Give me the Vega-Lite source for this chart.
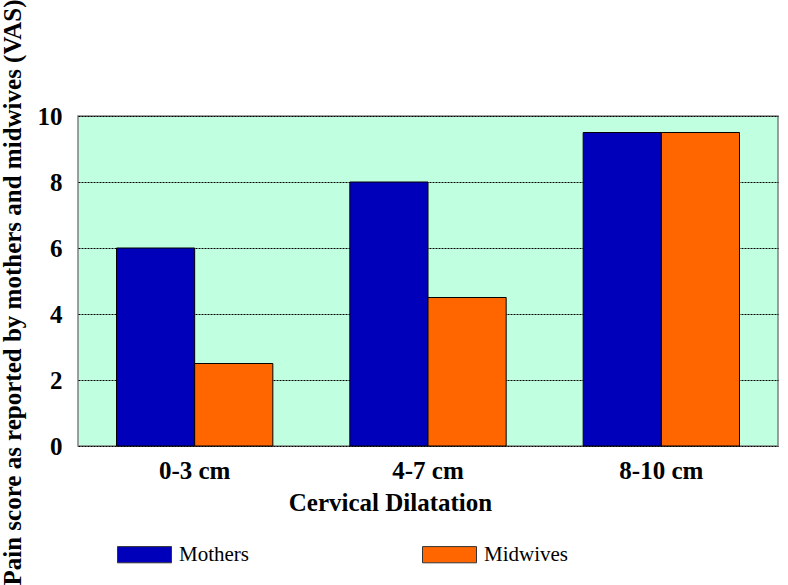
{
  "$schema": "https://vega.github.io/schema/vega-lite/v6.json",
  "width": 700,
  "height": 330,
  "autosize": "none",
  "padding": {"left": 78, "top": 116, "right": 10, "bottom": 139},
  "background": "white",
  "data": {
    "values": [
      {"dilatation": "0-3 cm", "group": "Mothers", "score": 6},
      {"dilatation": "0-3 cm", "group": "Midwives", "score": 2.5},
      {"dilatation": "4-7 cm", "group": "Mothers", "score": 8},
      {"dilatation": "4-7 cm", "group": "Midwives", "score": 4.5},
      {"dilatation": "8-10 cm", "group": "Mothers", "score": 9.5},
      {"dilatation": "8-10 cm", "group": "Midwives", "score": 9.5}
    ]
  },
  "mark": {"type": "bar", "stroke": "black", "strokeWidth": 1},
  "encoding": {
    "x": {
      "field": "dilatation",
      "type": "nominal",
      "sort": ["0-3 cm", "4-7 cm", "8-10 cm"],
      "scale": {"paddingInner": 0.33, "paddingOuter": 0.165},
      "axis": {
        "title": "Cervical Dilatation",
        "labelAngle": 0,
        "labelFont": "Liberation Serif, Times New Roman, serif",
        "labelFontWeight": "bold",
        "labelFontSize": 25,
        "labelColor": "black",
        "labelPadding": 12,
        "ticks": false,
        "domain": false,
        "titleFont": "Liberation Serif, Times New Roman, serif",
        "titleFontWeight": "bold",
        "titleFontSize": 25,
        "titleColor": "black",
        "titleX": 312,
        "titleY": 56,
        "titleBaseline": "middle"
      }
    },
    "xOffset": {"field": "group", "type": "nominal", "sort": ["Mothers", "Midwives"]},
    "y": {
      "field": "score",
      "type": "quantitative",
      "scale": {"domain": [0, 10]},
      "axis": {
        "title": "Pain score as reported by mothers and midwives (VAS)",
        "values": [0, 2, 4, 6, 8, 10],
        "grid": true,
        "gridColor": "black",
        "gridDash": [2, 1],
        "gridWidth": 1,
        "ticks": false,
        "domain": false,
        "labelFont": "Liberation Serif, Times New Roman, serif",
        "labelFontWeight": "bold",
        "labelFontSize": 25,
        "labelColor": "black",
        "labelPadding": 16,
        "titleFont": "Liberation Serif, Times New Roman, serif",
        "titleFontWeight": "bold",
        "titleFontSize": 25,
        "titleColor": "black",
        "titleAngle": 270,
        "titleAlign": "center",
        "titleBaseline": "middle",
        "titleX": -66,
        "titleY": 176
      }
    },
    "color": {
      "field": "group",
      "type": "nominal",
      "sort": ["Mothers", "Midwives"],
      "scale": {"domain": ["Mothers", "Midwives"], "range": ["#0000bb", "#ff6600"]},
      "legend": {
        "title": null,
        "orient": "none",
        "direction": "horizontal",
        "legendX": 39,
        "legendY": 411,
        "symbolType": "M-1,-0.3H1V0.3H-1Z",
        "symbolSize": 2916,
        "symbolStrokeColor": "#333333",
        "symbolStrokeWidth": 1,
        "symbolOpacity": 1,
        "labelFont": "Liberation Serif, Times New Roman, serif",
        "labelFontSize": 21,
        "labelColor": "black",
        "labelOffset": 7,
        "columnPadding": 171,
        "padding": 0
      }
    }
  },
  "config": {
    "view": {"fill": "#c0ffe0", "stroke": "#808080", "strokeWidth": 1.5}
  }
}
